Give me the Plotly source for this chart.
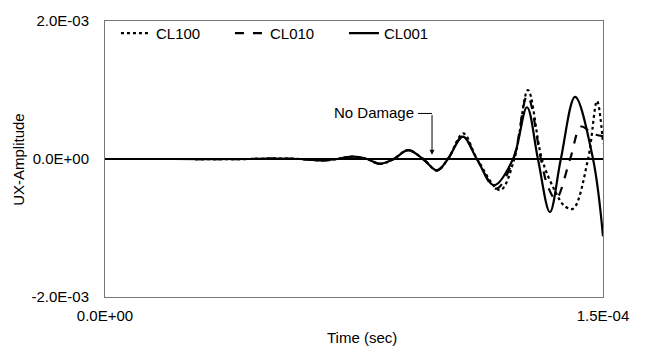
import plotly.graph_objects as go

# time in microseconds (converted to seconds below), amplitude in 1e-3 units
t_common = [0, 20, 43.7, 48, 52.7, 58.7, 64.8, 69.9, 74.7, 78.9, 82.8, 87.0, 91.3, 95.8, 100.0, 103.3]
v_common = [0, 0, 0, 0.004, 0.006, 0.0, -0.02, 0.0, 0.035, 0.0, -0.07, 0.0, 0.13, 0.0, -0.165, 0.0]

t_cl001 = [107.8, 112.0, 117.2, 122.9, 127.1, 130.4, 134.0, 137.3, 141.6, 147.0, 150.0]
v_cl001 = [0.325, 0.0, -0.38, 0.0, 0.75, 0.0, -0.77, 0.0, 0.90, 0.0, -1.12]

t_cl010 = [107.8, 112.0, 117.8, 123.0, 127.2, 131.3, 133.4, 135.8, 140.1, 143.4, 146.7, 150.0]
v_cl010 = [0.33, 0.0, -0.43, 0.0, 0.92, 0.0, -0.40, -0.58, 0.0, 0.47, 0.37, 0.33]

t_cl100 = [107.9, 112.1, 119.0, 123.3, 127.4, 131.6, 135.4, 138.4, 141.0, 145.5, 148.2, 150.0]
v_cl100 = [0.37, 0.0, -0.45, 0.0, 1.0, 0.0, -0.45, -0.68, -0.72, 0.0, 0.84, 0.23]

series = [
    ("CL100", t_cl100, v_cl100, "dot"),
    ("CL010", t_cl010, v_cl010, "dash"),
    ("CL001", t_cl001, v_cl001, "solid"),
]

x_ticks = [0, 1.5e-4]
x_tick_text = ["0.0E+00", "1.5E-04"]
y_ticks = [-2e-3, 0, 2e-3]
y_tick_text = ["-2.0E-03", "0.0E+00", "2.0E-03"]

FONT = "Liberation Sans, Arial, sans-serif"

fig = go.Figure()
for name, tt, vv, dash in series:
    xs = [v * 1e-6 for v in t_common + tt]
    ys = [v * 1e-3 for v in v_common + vv]
    fig.add_trace(go.Scatter(
        x=xs, y=ys, mode="lines", name=name,
        line=dict(color="black", width=2.2, dash=dash, shape="spline", smoothing=1.0),
    ))

# "No Damage" annotation with bent arrow
fig.add_annotation(x=93.6e-6, y=0.68e-3, text="No Damage", showarrow=False,
                   xanchor="right", yanchor="middle",
                   font=dict(family=FONT, size=15, color="black"))
fig.add_shape(type="line", x0=94.3e-6, x1=98.5e-6, y0=0.66e-3, y1=0.66e-3,
              line=dict(color="black", width=1))
fig.add_annotation(x=98.5e-6, y=0.06e-3, ax=98.5e-6, ay=0.66e-3,
                   axref="x", ayref="y", text="", showarrow=True,
                   arrowhead=2, arrowsize=1, arrowwidth=1, arrowcolor="black")

fig.add_annotation(x=0.5, y=-0.148, xref="paper", yref="paper", text="Time (sec)",
                   showarrow=False, xanchor="center", yanchor="middle", xshift=8,
                   font=dict(family=FONT, size=15, color="black"))
fig.add_annotation(x=-0.175, y=0.5, xref="paper", yref="paper", text="UX-Amplitude",
                   showarrow=False, textangle=-90, xanchor="center", yanchor="middle",
                   font=dict(family=FONT, size=15, color="black"))

fig.update_layout(
    width=645, height=349,
    margin=dict(l=105, r=42, t=13, b=52),
    paper_bgcolor="white", plot_bgcolor="white",
    font=dict(family=FONT, size=15, color="black"),
    showlegend=True,
    legend=dict(orientation="h", x=0.022, y=1.015, xanchor="left", yanchor="top",
                bgcolor="rgba(0,0,0,0)", entrywidth=69, entrywidthmode="pixels",
                font=dict(family=FONT, size=15, color="black"), itemwidth=30),
    xaxis=dict(range=[0, 1.5e-4], tickvals=x_ticks, ticktext=x_tick_text,
               showgrid=False, zeroline=False, showline=True, linecolor="#777777",
               linewidth=1, mirror=True, ticks="", ticklabelstandoff=5),
    yaxis=dict(range=[-2e-3, 2e-3], tickvals=y_ticks, ticktext=y_tick_text,
               showgrid=False, zeroline=True, zerolinecolor="black", zerolinewidth=1.5,
               showline=True, linecolor="#777777", linewidth=1, mirror=True,
               ticks="", ticklabelstandoff=12),
)

fig.write_html("out.html")
